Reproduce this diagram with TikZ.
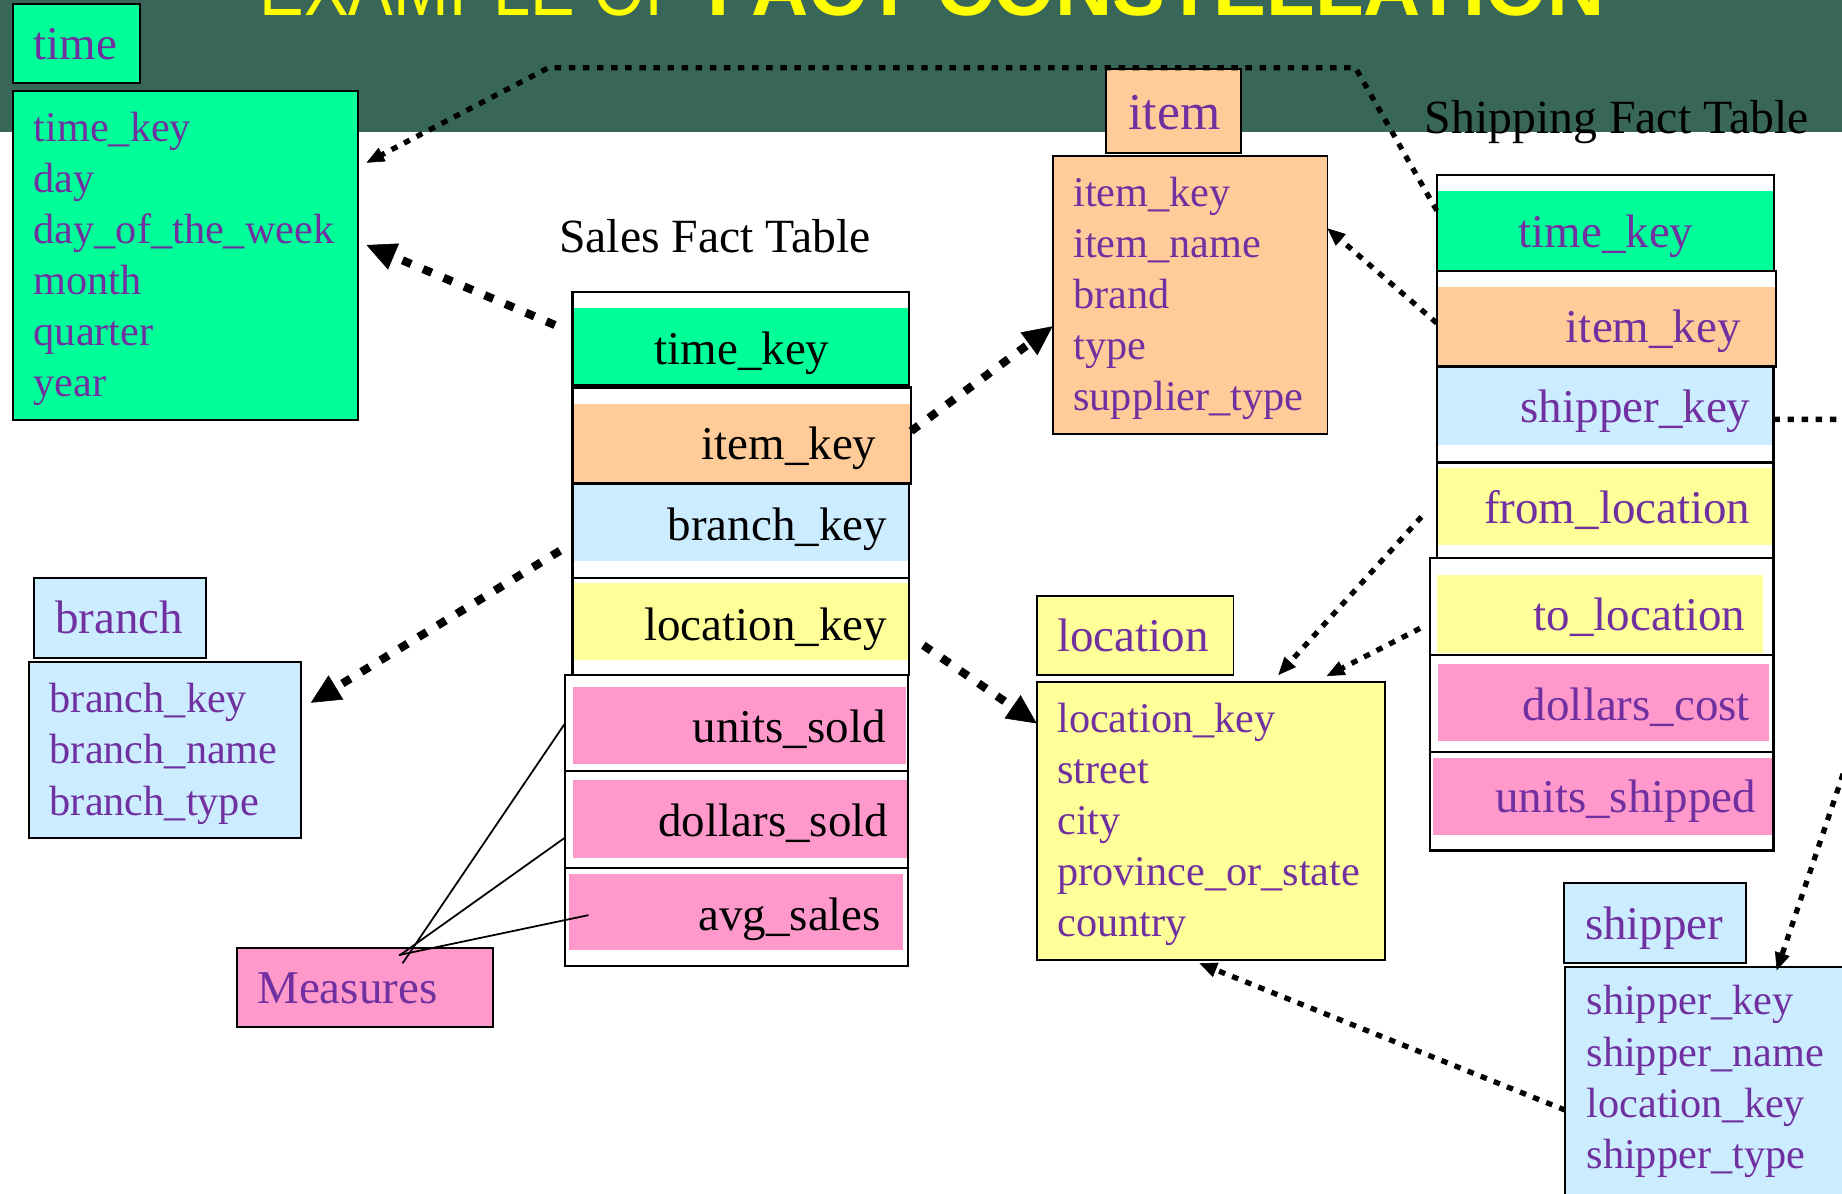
\documentclass[tikz,border=0pt]{standalone}
\usepackage{fontspec}
\setmainfont{Liberation Serif}
\newfontfamily\titlesans{Liberation Sans}
\newfontfamily\titlenarrow[FakeStretch=0.843]{Liberation Sans}
\usetikzlibrary{arrows.meta,calc,fit}

\definecolor{band}{HTML}{386658}
\definecolor{purp}{HTML}{7030A0}
\definecolor{tgreen}{HTML}{00FF99}
\definecolor{tpeach}{HTML}{FFCC99}
\definecolor{tblue}{HTML}{CCECFF}
\definecolor{tyellow}{HTML}{FFFF99}
\definecolor{tpink}{HTML}{FF99CC}
\definecolor{ttitle}{HTML}{FFFF00}

\begin{document}
\begin{tikzpicture}[x=1pt,y=-1pt,
  every node/.style={inner sep=0pt,outer sep=0pt},
  dimbox/.style={draw=black,line width=1.6pt},
  rowline/.style={draw=black,line width=2pt},
  headtext/.style={text=purp,font=\fontsize{40}{48}\selectfont,anchor=base west},
  attrtext/.style={text=purp,font=\fontsize{36}{43.5}\selectfont,anchor=base west},
  facttext/.style={font=\fontsize{40}{48}\selectfont,anchor=base east},
  tabletitle/.style={font=\fontsize{40.6}{48}\selectfont,anchor=base west},
  thickdot/.style={line width=7pt,dash pattern=on 8pt off 11pt,
    -{Triangle[length=25pt,width=24pt,line width=0.5pt]}},
  thindot/.style={line width=4.5pt,dash pattern=on 5.5pt off 6.5pt,
    -{Triangle[length=15pt,width=13pt,line width=0.5pt]}},
  measline/.style={line width=1.5pt}
]
\useasboundingbox (0,0) rectangle (1568,1016);
\clip (0,0) rectangle (1568,1016);
\fill[white] (0,0) rectangle (1568,1016);

% header band and title
\fill[band] (0,0) rectangle (1568,112);
\node[anchor=base west,text=ttitle] (titleA) at (221,12.8)
  {\titlenarrow\fontsize{67.5}{70}\selectfont EXAMPLE OF};
\node[anchor=base west,text=ttitle] (titleB) at (602,12.8)
  {\titlesans\bfseries\fontsize{67.5}{70}\selectfont FACT CONSTELLATION};

% dimension tables
\node[dimbox,fill=tgreen,fit={(11.4,3.4) (119,70.4)}] (timeH) {};
\node[dimbox,fill=tgreen,fit={(11.4,77.2) (304.6,357.5)}] (timeA) {};
\node[headtext] (timeL) at (28.7,51) {time};
\foreach \t [count=\i from 0] in {time\_key,day,day\_of\_the\_week,month,quarter,year}
  \node[attrtext] (timeT\i) at (28.7,{120.6+43.4*\i}) {\t};

\node[dimbox,fill=tpeach,fit={(941.5,58.7) (1056.5,130)}] (itemH) {};
\node[dimbox,fill=tpeach,fit={(896,132.8) (1130,369.5)}] (itemA) {};
\node[headtext,font=\fontsize{44}{52}\selectfont] (itemL) at (960.5,110) {item};
\foreach \t [count=\i from 0] in {item\_key,item\_name,brand,type,supplier\_type}
  \node[attrtext] (itemT\i) at (913.7,{175.4+43.6*\i}) {\t};

\node[dimbox,fill=tblue,fit={(28.7,492.3) (175,559.9)}] (branchH) {};
\node[dimbox,fill=tblue,fit={(24.4,563.8) (256,713.1)}] (branchA) {};
\node[headtext] (branchL) at (47.2,539) {branch};
\foreach \t [count=\i from 0] in {branch\_key,branch\_name,branch\_type}
  \node[attrtext] (branchT\i) at (42.4,{606.7+43.6*\i}) {\t};

\node[dimbox,fill=tyellow,fit={(882.5,507) (1050,574.6)}] (locH) {};
\node[dimbox,fill=tyellow,fit={(882.5,580.3) (1179,817.2)}] (locA) {};
\node[headtext] (locL) at (900,554.8) {location};
\foreach \t [count=\i from 0] in {location\_key,street,city,province\_or\_state,country}
  \node[attrtext] (locT\i) at (900,{623.7+43.4*\i}) {\t};

\node[dimbox,fill=tblue,fit={(1331.3,752) (1486.4,820)}] (shipH) {};
\node[dimbox,fill=tblue,fit={(1332.4,823) (1620,1060)}] (shipA) {};
\node[headtext] (shipL) at (1349.3,799.6) {shipper};
\foreach \t [count=\i from 0] in {shipper\_key,shipper\_name,location\_key,shipper\_type}
  \node[attrtext] (shipT\i) at (1350.6,{864+43.5*\i}) {\t};

\node[dimbox,fill=tpink,fit={(202,806.7) (419.6,874)}] (meas) {};
\node[headtext] (measL) at (219,854) {Measures};

% sales fact table
\node[tabletitle] (salesTitle) at (476,214.7) {Sales Fact Table};
\foreach \n/\xa/\ya/\xb/\yb/\xc/\yc/\xd/\yd/\col/\txt/\tx/\ty in {
  1/487.2/248.6/774/328.2/487.2/262.6/774/328.2/tgreen/time\_key/706/310,
  2/487.2/330/775.5/411.6/487.2/344/775.5/410.8/tpeach/item\_key/746/391.3,
  3/487.2/411.6/774/492/487.2/412.5/774/477.3/tblue/branch\_key/755/460,
  4/487.2/492/774/574.7/487.2/496.4/774/562/tyellow/location\_key/755/545.3,
  5/481/574.7/773/656.5/488/584.5/771.3/650/tpink/units\_sold/754/632,
  6/481/656.5/773/739/488/664/772.7/730/tpink/dollars\_sold/756/712.4,
  7/481/739/773/822.5/484.4/744/768.5/808.7/tpink/avg\_sales/750/792}
{
  \node[fill=white,fit={(\xa,\ya) (\xb,\yb)}] (sR\n) {};
  \node[fill=\col,fit={(\xc,\yc) (\xd,\yd)}] (sF\n) {};
  \draw[rowline] (sR\n.north west) rectangle (sR\n.south east);
  \node[facttext] (sT\n) at (\tx,\ty) {\txt};
}

% shipping fact table
\node[tabletitle] (shipTitle) at (1213,114) {Shipping Fact Table};
\foreach \n/\xa/\ya/\xb/\yb/\xc/\yc/\xd/\yd/\col/\txt/\tx/\ty in {
  1/1223/149/1510/230.5/1223.6/162.7/1510/229.6/tgreen/time\_key/1441.5/211,
  2/1223/230.5/1512/312/1223/244/1512/311/tpeach/item\_key/1481.8/291.5,
  3/1223/312/1509.6/393.8/1223/313/1509.6/379/tblue/shipper\_key/1490/359.5,
  4/1223/393.8/1509.6/475/1223/398/1508.5/464/tyellow/from\_location/1490/446,
  5/1217.3/475/1509.6/557.6/1223/489.5/1501/555.5/tyellow/to\_location/1485.5/537,
  6/1217.3/557.6/1509.6/640/1224.4/565/1506/630.6/tpink/dollars\_cost/1489.7/613.3,
  7/1217.3/640/1509.6/724/1219.6/645.5/1511/711/tpink/units\_shipped/1494.9/691.7}
{
  \node[fill=white,fit={(\xa,\ya) (\xb,\yb)}] (shR\n) {};
  \node[fill=\col,fit={(\xc,\yc) (\xd,\yd)}] (shF\n) {};
  \draw[rowline] (shR\n.north west) rectangle (shR\n.south east);
  \node[facttext,text=purp] (shT\n) at (\tx,\ty) {\txt};
}

% measures pointers
\draw[measline] ($(meas.north west)+(140.7,13.3)$) -- ($(sR5.north west)+(0,41)$);
\draw[measline] ($(meas.north west)+(138.5,6.3)$) -- ($(sR6.north west)+(0,56.5)$);
\draw[measline] ($(meas.north west)+(137.5,6.3)$) -- ($(sR7.north west)+(20,40)$);

% sales fact table keys
\draw[thickdot] ($(sR1.north west)+(-14.8,28.1)$) -- ($(timeA.north east)+(7.4,131.4)$);
\draw[thickdot] ($(sR2.north east)+(0,37)$) -- ($(itemA.north west)+(0,145)$);
\draw[thickdot] ($(sR3.north west)+(-10.5,57.2)$) -- ($(branchA.north east)+(8.6,34.4)$);
\draw[thickdot] ($(sR4.north east)+(12,57.3)$) -- ($(locA.north west)+(0,35.5)$);

% shipping fact table keys
\coordinate (bendA) at (1153.8,57.6);
\coordinate (bendB) at (467,57.6);
\coordinate (bendC) at (1671,357);
\draw[thindot] ($(shR1.north west)+(0,30.2)$) -- (bendA) -- (bendB)
  -- ($(timeA.north east)+(7.4,61.3)$);
\draw[thindot] ($(shR2.north west)+(0,44.5)$) -- ($(itemA.north east)+(0,61.6)$);
\draw[thindot] ($(shR3.north east)+(0,45)$) -- (bendC) -- ($(shipA.north west)+(180,3)$);
\draw[thindot] ($(shR4.north west)+(-13,46.2)$) -- ($(locA.north west)+(205.7,-5.7)$);
\draw[thindot] ($(shR5.north west)+(-8.5,59.9)$) -- ($(locA.north west)+(246.9,-4.8)$);
\draw[thindot] ($(shipA.north west)+(0,122)$) -- ($(locA.south west)+(138.5,2.8)$);
\end{tikzpicture}
\end{document}
